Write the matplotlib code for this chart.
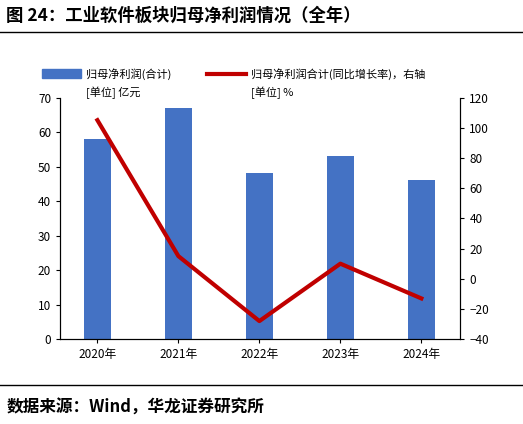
import matplotlib
matplotlib.use("Agg")
import matplotlib.pyplot as plt
from matplotlib.lines import Line2D
from matplotlib.patches import Rectangle

plt.rcParams['font.family'] = ['Noto Sans CJK SC', 'DejaVu Sans']

years = ["2020年", "2021年", "2022年", "2023年", "2024年"]
profit = [58, 67, 48, 53, 46]
growth = [105, 15, -28, 10, -13]

fig = plt.figure(figsize=(5.23, 4.24), dpi=100)
ax = fig.add_axes([0.115, 0.2, 0.765, 0.57])
x = range(len(years))
ax.bar(x, profit, width=0.33, color='#4472C4')
ax.set_ylim(0, 70)
ax.set_yticks(range(0, 71, 10))
ax.set_xlim(-0.46, 4.48)
ax.set_xticks(list(x))
ax.set_xticklabels(years)
ax2 = ax.twinx()
ax2.plot(x, growth, color='#C00000', lw=3)
ax2.set_ylim(-40, 120)
ax2.set_yticks(range(-40, 121, 20))
for a in (ax, ax2):
    a.tick_params(labelsize=8.5, length=3)
    a.spines['top'].set_visible(False)

fig.text(0.012, 0.962, "图 24：工业软件板块归母净利润情况（全年）", fontsize=12.5, fontweight='bold', va='center')
fig.add_artist(Line2D([0.0, 1.0], [0.925, 0.925], color='black', lw=1))
fig.add_artist(Line2D([0.0, 1.0], [0.093, 0.093], color='black', lw=1))
fig.text(0.012, 0.038, "数据来源：Wind，华龙证券研究所", fontsize=12, fontweight='bold', va='center')

fig.add_artist(Rectangle((0.08, 0.815), 0.075, 0.022, transform=fig.transFigure, color='#4472C4'))
fig.text(0.165, 0.826, "归母净利润(合计)", fontsize=8, va='center')
fig.text(0.165, 0.782, "[单位] 亿元", fontsize=8, va='center')
fig.add_artist(Line2D([0.395, 0.47], [0.826, 0.826], color='#C00000', lw=3))
fig.text(0.48, 0.826, "归母净利润合计(同比增长率)，右轴", fontsize=8, va='center')
fig.text(0.48, 0.782, "[单位] %", fontsize=8, va='center')

fig.savefig("out.png", dpi=100)
